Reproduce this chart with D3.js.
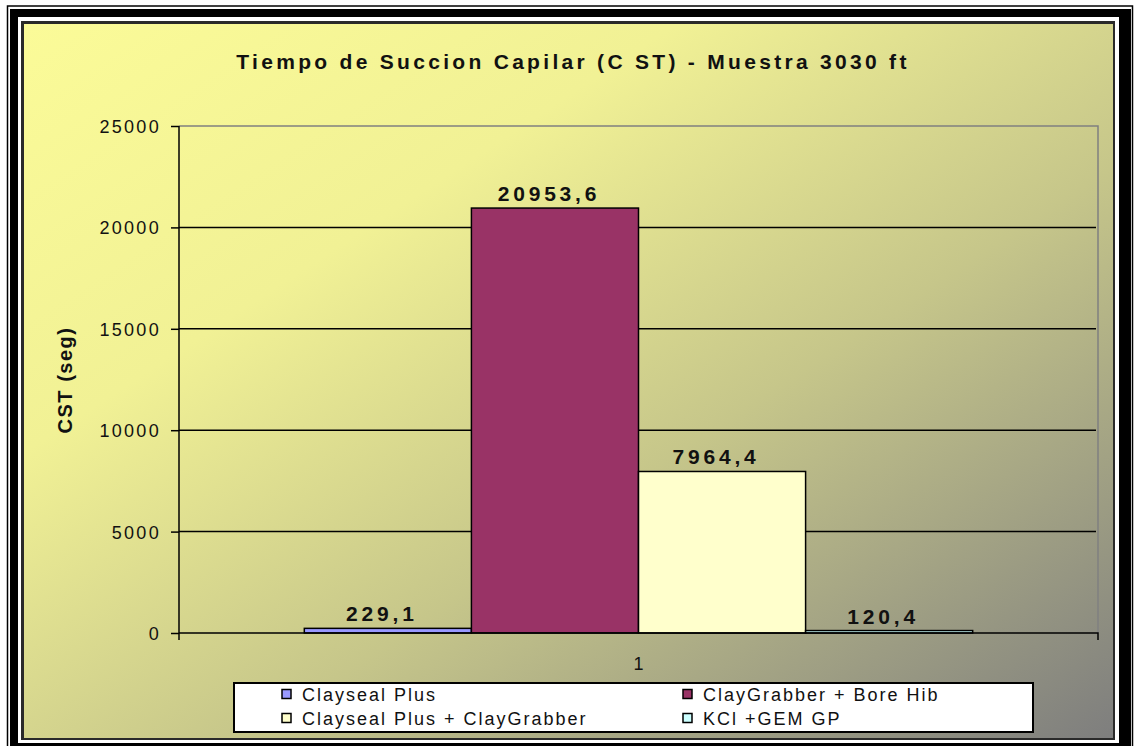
<!DOCTYPE html>
<html>
<head>
<meta charset="utf-8">
<script src="https://cdn.jsdelivr.net/npm/d3@7"></script>
<style>
  html, body { margin: 0; padding: 0; background: #fff; }
  svg { display: block; font-family: Arial, "Liberation Sans", sans-serif; }
</style>
</head>
<body>
<div id="chart"></div>
<script>
// data
var categories = ["1"];
var seriesNames = ["Clayseal Plus", "ClayGrabber + Bore Hib", "Clayseal Plus + ClayGrabber", "KCl +GEM GP"];
var seriesValues = [229.1, 20953.6, 7964.4, 120.4];
var yTicks = [0, 5000, 10000, 15000, 20000, 25000];
var seriesColors = ["#9999FF", "#993366", "#FFFFCC", "#CCFFFF"];

var W = 1135, H = 746;
var margin = {top: 126, right: 1135 - 1098, bottom: 746 - 633, left: 179},
    width = W - margin.left - margin.right,
    height = H - margin.top - margin.bottom;

var svg = d3.select("#chart").append("svg")
    .attr("width", W)
    .attr("height", H);

var defs = svg.append("defs");
var grad = defs.append("linearGradient")
    .attr("id", "bg")
    .attr("x1", 0).attr("y1", 0).attr("x2", 1).attr("y2", 1);
grad.append("stop").attr("offset", "0%").attr("stop-color", "#FBFB98");
grad.append("stop").attr("offset", "30%").attr("stop-color", "#F1F195");
grad.append("stop").attr("offset", "60%").attr("stop-color", "#C6C68A");
grad.append("stop").attr("offset", "100%").attr("stop-color", "#7E7E7E");

// frame (picture border)
svg.append("rect").attr("x", 7.5).attr("y", 6).attr("width", 1125).attr("height", 760)
    .attr("fill", "none").attr("stroke", "#000").attr("stroke-width", 1.5);
svg.append("rect").attr("x", 10).attr("y", 9).attr("width", 1121).attr("height", 760)
    .attr("fill", "#000");
svg.append("rect").attr("x", 18).attr("y", 17).attr("width", 1101).attr("height", 726)
    .attr("fill", "#fff");
svg.append("rect").attr("x", 21).attr("y", 21).attr("width", 1094).attr("height", 719)
    .attr("fill", "#2a2a2a");
svg.append("rect").attr("x", 24).attr("y", 24).attr("width", 1089).attr("height", 714)
    .attr("fill", "url(#bg)");

// title
svg.append("text")
    .attr("x", 573).attr("y", 69)
    .attr("text-anchor", "middle")
    .style("font-size", "21px").style("font-weight", "bold")
    .style("letter-spacing", "3.3px")
    .attr("fill", "#111")
    .text("Tiempo de Succion Capilar (C ST) - Muestra 3030 ft");

var plot = svg.append("g")
    .attr("transform", "translate(" + margin.left + "," + margin.top + ")");

var x0 = d3.scaleBand().domain(categories).range([0, width])
    .paddingInner(0).paddingOuter(0.1875);
var x1 = d3.scaleBand().domain(seriesNames).range([0, x0.bandwidth()]).padding(0);
var y = d3.scaleLinear().domain([0, 25000]).range([height, 0]);

// plot border top/right
plot.append("path")
    .attr("d", "M0," + y(25000) + "H" + width + "V" + height)
    .attr("fill", "none").attr("stroke", "#808080").attr("stroke-width", 1.5);

// gridlines
plot.append("g").selectAll("line")
    .data(yTicks.filter(function(d) { return d > 0 && d < 25000; }))
    .enter().append("line")
    .attr("x1", 0).attr("x2", width - 2)
    .attr("y1", function(d) { return y(d); })
    .attr("y2", function(d) { return y(d); })
    .attr("stroke", "#000").attr("stroke-width", 1.5);

// bars
var group = plot.append("g").selectAll("g")
    .data(categories).enter().append("g")
    .attr("transform", function(d) { return "translate(" + x0(d) + ",0)"; });

group.selectAll("rect")
    .data(seriesNames.map(function(s, i) { return {name: s, value: seriesValues[i], color: seriesColors[i]}; }))
    .enter().append("rect")
    .attr("x", function(d) { return x1(d.name); })
    .attr("y", function(d) { return y(d.value); })
    .attr("width", x1.bandwidth())
    .attr("height", function(d) { return y(0) - y(d.value); })
    .attr("fill", function(d) { return d.color; })
    .attr("stroke", "#000").attr("stroke-width", 1.5);

group.selectAll("text")
    .data(seriesNames.map(function(s, i) { return {name: s, value: seriesValues[i]}; }))
    .enter().append("text")
    .attr("x", function(d) { return x1(d.name) + x1.bandwidth() / 2 - 6; })
    .attr("y", function(d) { return y(d.value) - 7; })
    .attr("text-anchor", "middle")
    .style("font-size", "21px").style("font-weight", "bold")
    .style("letter-spacing", "3.8px")
    .attr("fill", "#111")
    .text(function(d) { return d.value.toFixed(1).replace(".", ","); });

// y axis
var yAxis = plot.append("g")
    .call(d3.axisLeft(y).tickValues(yTicks).tickSize(8).tickFormat(function(d) { return d; }));
yAxis.select(".domain").attr("d", "M0,0V" + (height + 7)).attr("stroke", "#000").attr("stroke-width", 1.5);
yAxis.selectAll(".tick line").attr("stroke", "#000").attr("stroke-width", 1.5);
yAxis.selectAll(".tick text")
    .attr("x", -18)
    .attr("dy", "0.36em")
    .style("font-size", "18px")
    .style("letter-spacing", "2.3px")
    .style("font-family", "Arial, 'Liberation Sans', sans-serif")
    .attr("fill", "#111");

// x axis
var xAxis = plot.append("g")
    .attr("transform", "translate(0," + height + ")")
    .call(d3.axisBottom(x0).tickSize(0).tickPadding(24));
xAxis.select(".domain").attr("d", "M0,0H" + width + "V7").attr("stroke", "#000").attr("stroke-width", 1.5);
xAxis.selectAll(".tick text")
    .style("font-size", "18px")
    .style("font-family", "Arial, 'Liberation Sans', sans-serif")
    .attr("fill", "#111");

// y title
svg.append("text")
    .attr("transform", "translate(72,380) rotate(-90)")
    .attr("text-anchor", "middle")
    .style("font-size", "20px").style("font-weight", "bold")
    .style("letter-spacing", "1.5px")
    .attr("fill", "#111")
    .text("CST (seg)");

// legend
var legend = svg.append("g");
legend.append("rect")
    .attr("x", 234).attr("y", 683).attr("width", 799).attr("height", 49)
    .attr("fill", "#fff").attr("stroke", "#000").attr("stroke-width", 2);

var legendPos = [[282, 694], [683, 694], [282, 718], [683, 718]];
var items = legend.selectAll("g.item")
    .data(seriesNames).enter().append("g")
    .attr("class", "item")
    .attr("transform", function(d, i) { return "translate(" + legendPos[i][0] + "," + legendPos[i][1] + ")"; });
items.append("rect")
    .attr("x", 0).attr("y", -4.5).attr("width", 9).attr("height", 9)
    .attr("fill", function(d, i) { return seriesColors[i]; })
    .attr("stroke", "#000").attr("stroke-width", 1.5);
items.append("text")
    .attr("x", 20).attr("y", 6.5)
    .style("font-size", "18px")
    .style("letter-spacing", "2px")
    .attr("fill", "#111")
    .text(function(d) { return d; });
</script>
</body>
</html>
